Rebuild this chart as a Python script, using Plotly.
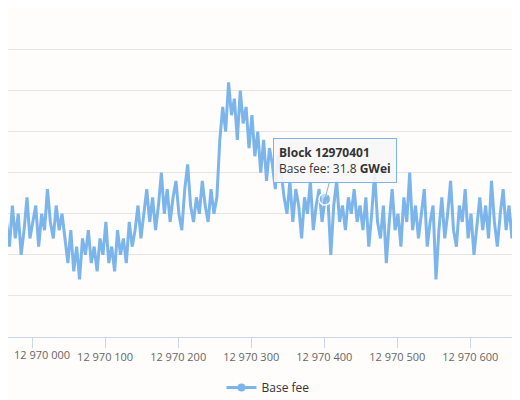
import plotly.graph_objects as go

start_block = 12969965
block_step = 4
base_fee = [
    29,26,31,27,30,25,28,32,27,29,31,26,30,28,33,29,27,31,28,30,
    27,24,28,23,26,22,27,25,28,24,26,23,27,25,29,24,26,23,28,25,27,24,29,26,
    28,31,27,30,33,29,32,28,31,35,30,33,29,32,34,30,28,33,36,31,29,32,30,34,
    31,29,33,30,32,
    39,43,40,46,42,44,39,45,41,43,38,42,
    37,40,35,39,34,38,36,33,37,35,
    32,30,34,29,33,31,27,32,30,34,28,31,33,29,31.8,32,25,31,34,29,31,28,32,30,33,29,31,
    28,32,26,30,35,29,27,31,24,29,33,28,30,26,32,29,35,28,31,27,30,33,26,29,31,22,28,32,
    27,30,34,28,26,31,29,33,27,30,25,29,32,28,31,27,34,29,26,30,33,28,31,27,32,29,30,28,
    30,27,
]
blocks = [start_block + block_step * i for i in range(len(base_fee))]
hover_block = 12970401
hover_value = base_fee[blocks.index(hover_block)]
tick_blocks = [12970000 + 100 * k for k in range(7)]

fig = go.Figure()
fig.add_trace(go.Scatter(x=blocks, y=base_fee, mode="lines", name="Base fee",
                         line=dict(color="#7cb5ec", width=3), showlegend=False))
fig.add_trace(go.Scatter(x=[None], y=[None], mode="lines+markers", name="Base fee",
                         line=dict(color="#7cb5ec", width=3),
                         marker=dict(color="#7cb5ec", size=8)))
fig.add_trace(go.Scatter(x=[hover_block], y=[hover_value], mode="markers", showlegend=False,
                         marker=dict(color="rgba(124,181,236,0.5)", size=12,
                                     line=dict(color="white", width=1.5))))
fig.add_annotation(x=hover_block, y=hover_value, xref="x", yref="y",
                   text=f"<b>Block {hover_block}</b><br>Base fee: {hover_value} <b>GWei</b>",
                   showarrow=True, arrowhead=0, arrowcolor="#7cb5ec", ax=10, ay=-38,
                   align="left", bgcolor="rgba(247,247,247,0.9)", bordercolor="#7cb5ec",
                   borderwidth=1, borderpad=5,
                   font=dict(family="Open Sans, Arial", size=12, color="#333333"))
fig.add_annotation(x=34, xref="paper", xanchor="center", y=-0.025, yref="paper", yanchor="top",
                   text=f"{tick_blocks[0] // 1000000} {tick_blocks[0] // 1000 % 1000} {tick_blocks[0] % 1000:03d}",
                   showarrow=False, font=dict(color="#666666", size=11))
fig.layout.annotations[-1].x = 34 / 520

fig.update_layout(
    width=520, height=400, margin=dict(l=0, r=0, t=2, b=71, autoexpand=False),
    paper_bgcolor="#fffdfb", plot_bgcolor="#fffdfb",
    separators=". ",
    font=dict(family="Open Sans, Arial", size=11, color="#333333"),
    xaxis=dict(range=[12969967, 12970679], tickvals=tick_blocks, automargin=False,
               tickformat=",d", showgrid=False, showline=True, linecolor="#ccd6eb",
               ticks="outside", ticklen=10, tickcolor="#ccd6eb", zeroline=False,
               tickfont=dict(color="#666666", size=11)),
    yaxis=dict(range=[15, 54.8], tickvals=[20, 25, 30, 35, 40, 45, 50], showticklabels=False,
               gridcolor="#e6e6e6", zeroline=False, automargin=False),
    legend=dict(orientation="h", x=0.5, xanchor="center", y=-0.11, yanchor="top",
                font=dict(size=12, color="#333333"), itemwidth=30),
    showlegend=True,
)
fig.write_html("out.html")
